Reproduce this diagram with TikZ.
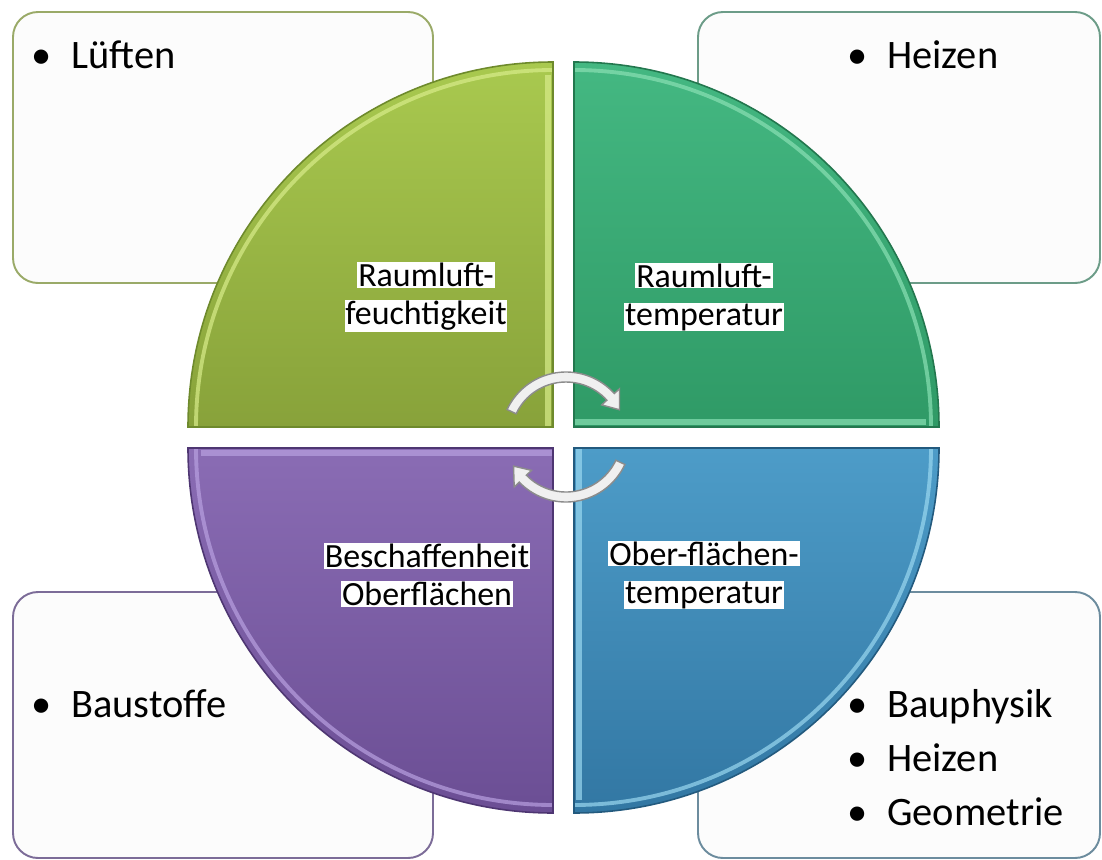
\documentclass[tikz,border=0pt]{standalone}
\usepackage{fontspec}
\setmainfont{Carlito}

\definecolor{qgreentop}{HTML}{A9C94F}
\definecolor{qgreenbot}{HTML}{88A23A}
\definecolor{qgreenedge}{HTML}{6E8A2C}
\definecolor{qgreenlight}{HTML}{D8EC8A}
\definecolor{qtealtop}{HTML}{44B882}
\definecolor{qtealbot}{HTML}{2F9A66}
\definecolor{qtealedge}{HTML}{23774E}
\definecolor{qteallight}{HTML}{8AE0B4}
\definecolor{qpurpletop}{HTML}{8A6CB4}
\definecolor{qpurplebot}{HTML}{6B4E94}
\definecolor{qpurpleedge}{HTML}{4E3672}
\definecolor{qpurplelight}{HTML}{B8A0E0}
\definecolor{qbluetop}{HTML}{4D9CC8}
\definecolor{qbluebot}{HTML}{3277A3}
\definecolor{qblueedge}{HTML}{235A7E}
\definecolor{qbluelight}{HTML}{9AD8F0}
\definecolor{boxgreen}{HTML}{9AAA68}
\definecolor{boxteal}{HTML}{6C9C88}
\definecolor{boxpurple}{HTML}{7C6C98}
\definecolor{boxblue}{HTML}{6C8C9E}

\newcommand{\whitebg}[1]{\colorbox{white}{#1}}
\setlength{\fboxsep}{0.5pt}

\begin{document}
\begin{tikzpicture}[x=0.02cm, y=0.02cm,
    infobox/.style={draw=#1, line width=1.1pt, fill=black!1, rounded corners=0.5cm},
    item/.style={anchor=base west, inner sep=0pt, font=\fontsize{23}{28}\selectfont},
    segtext/.style={align=center, inner sep=0pt, font=\fontsize{19.3}{21.6}\selectfont},
    cyclearrow/.style={fill=black!6, draw=black!45, line width=0.8pt}]

\useasboundingbox (0,0) rectangle (1102,-859);

% Boxes behind the circle
\draw[infobox=boxgreen] (13,-12) rectangle (433,-283);
\draw[infobox=boxteal] (698,-12) rectangle (1100,-283);
\draw[infobox=boxpurple] (13,-592) rectangle (433,-858);
\draw[infobox=boxblue] (698,-592) rectangle (1100,-858);

% Four quarters of the circle
\foreach \cx/\cy/\a/\col in {553/-427/90/qgreen, 574/-427/0/qteal, 553/-448/180/qpurple, 574/-448/270/qblue} {
    \fill[top color=\col top, bottom color=\col bot] (\cx,\cy) -- ++(\a:365) arc[start angle=\a, delta angle=90, radius=365] -- cycle;
    \draw[\col light, line width=2.2pt, opacity=0.7] (\cx,\cy) ++(\a:357) arc[start angle=\a, delta angle=90, radius=357];
    \draw[\col light, line width=3pt, opacity=0.7] ([shift={(\a+90:5)}]\cx,\cy) -- ++(\a:352);
    \draw[\col edge, line width=0.9pt] (\cx,\cy) -- ++(\a:365) arc[start angle=\a, delta angle=90, radius=365] -- cycle;
}

% Labels of the quarters
\node[segtext] (feuchte) at (426,-297) {\whitebg{Raumluft-}\\\whitebg{feuchtigkeit}};
\node[segtext] (lufttemp) at (704,-297) {\whitebg{Raumluft-}\\\whitebg{temperatur}};
\node[segtext] (beschaff) at (427,-575) {\whitebg{Beschaffenheit}\\\whitebg{Oberflächen}};
\node[segtext] (oftemp) at (704,-575) {\whitebg{Ober-flächen-}\\\whitebg{temperatur}};

% Cycle arrows in the middle
\begin{scope}[shift={(566,-437)}]
    \filldraw[cyclearrow] (155:65) arc[start angle=155, end angle=42, radius=65] -- (42:72) -- (27:60) -- (42:48) -- (42:55) arc[start angle=42, end angle=155, radius=55] -- cycle;
    \filldraw[cyclearrow] (335:65) arc[start angle=335, end angle=224, radius=65] -- (224:72) -- (209:60) -- (224:48) -- (224:55) arc[start angle=224, end angle=335, radius=55] -- cycle;
\end{scope}

% Bullet texts
\node[item] (lueften) at (71,-68) {\llap{\textbullet\hskip 0.4cm}Lüften};
\node[item] (heizen) at (887,-68) {\llap{\textbullet\hskip 0.4cm}Heizen};
\node[item] (baustoffe) at (71,-717) {\llap{\textbullet\hskip 0.4cm}Baustoffe};
\foreach \w [count=\i from 0] in {Bauphysik, Heizen, Geometrie} {
    \node[item] (einfluss\i) at (887,{-717-54*\i}) {\llap{\textbullet\hskip 0.4cm}\w};
}
\end{tikzpicture}
\end{document}
